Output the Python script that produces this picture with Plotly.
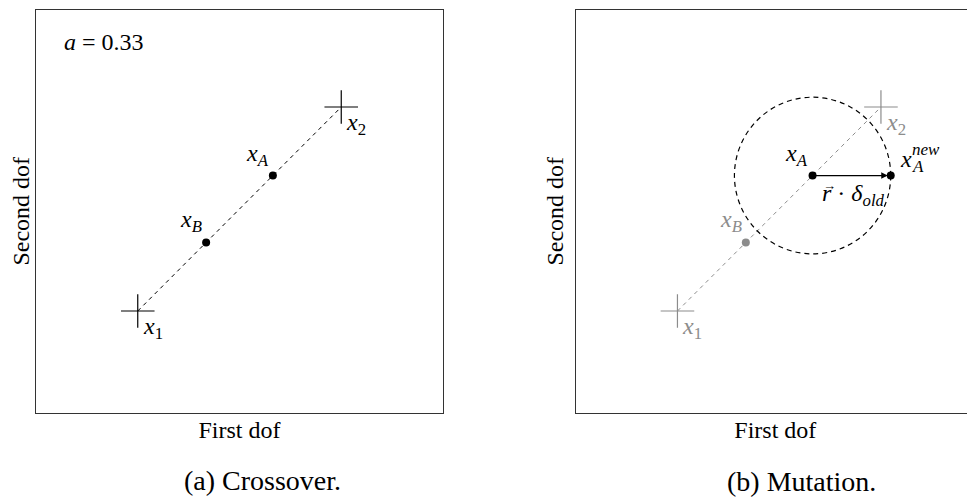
import plotly.graph_objects as go

# ---- data (unit square coordinates) ----
parents_x = [0.25, 0.75]          # x1, x2
parents_y = [0.25, 0.75]
parent_labels = ["1", "2"]
a_value = 0.33
child_names = ["A", "B"]
children_x = [0.582, 0.418]       # xA, xB
children_y = [0.582, 0.418]
new_x = [0.774]                   # xA_new
new_y = [0.582]
mut_radius = 0.192

# page body has an 8px margin -> figure is 8px smaller and everything shifted
OFF = 8
W, H = 975 - OFF, 501 - OFF
FONT = "Liberation Serif, Liberation Sans, serif"
GRAY = "#8c8c8c"
LS = 24   # label font size
TS = 24   # axis title size
CS = 28   # caption size

def px(x):
    return (x - OFF) / W

def py(y):
    return 1 - (y - OFF) / H

fig = go.Figure()

# ---------- panel (a) ----------
fig.add_trace(go.Scatter(x=parents_x, y=parents_y, mode="lines",
                         line=dict(color="black", width=1, dash="4px,4px"),
                         xaxis="x", yaxis="y", hoverinfo="skip"))
fig.add_trace(go.Scatter(x=parents_x, y=parents_y, mode="markers",
                         marker=dict(symbol="cross-thin", size=24,
                                     line=dict(color="black", width=1.2)),
                         xaxis="x", yaxis="y"))
fig.add_trace(go.Scatter(x=children_x, y=children_y, mode="markers",
                         marker=dict(symbol="circle", size=8, color="black"),
                         xaxis="x", yaxis="y"))

# ---------- panel (b) ----------
fig.add_trace(go.Scatter(x=parents_x, y=parents_y, mode="lines",
                         line=dict(color=GRAY, width=1, dash="4px,4px"),
                         xaxis="x2", yaxis="y2", hoverinfo="skip"))
fig.add_trace(go.Scatter(x=parents_x, y=parents_y, mode="markers",
                         marker=dict(symbol="cross-thin", size=24,
                                     line=dict(color=GRAY, width=1.2)),
                         xaxis="x2", yaxis="y2"))
fig.add_trace(go.Scatter(x=children_x[1:], y=children_y[1:], mode="markers",
                         marker=dict(symbol="circle", size=8, color=GRAY),
                         xaxis="x2", yaxis="y2"))
fig.add_trace(go.Scatter(x=children_x[:1] + new_x, y=children_y[:1] + new_y,
                         mode="markers",
                         marker=dict(symbol="circle", size=8, color="black"),
                         xaxis="x2", yaxis="y2"))

# dashed mutation circle
fig.add_shape(type="circle", xref="x2", yref="y2",
              x0=children_x[0] - mut_radius, x1=children_x[0] + mut_radius,
              y0=children_y[0] - mut_radius, y1=children_y[0] + mut_radius,
              line=dict(color="black", width=1.2, dash="5px,4px"))

ann = []
# arrow xA -> xA_new
ann.append(dict(xref="x2", yref="y2", axref="x2", ayref="y2",
                x=new_x[0], y=new_y[0], ax=children_x[0], ay=children_y[0],
                text="", showarrow=True, arrowhead=2, arrowsize=1,
                arrowwidth=1.3, arrowcolor="black", standoff=3))

lab_font = dict(family=FONT, size=LS, color="black")
gray_font = dict(family=FONT, size=LS, color=GRAY)

def xlab(sub):
    return "<i>x</i><sub><i>" + sub + "</i></sub>"

for xr, yr, col in (("x", "y", "black"), ("x2", "y2", GRAY)):
    f = dict(family=FONT, size=LS, color=col)
    for pxv, pyv, lab in zip(parents_x, parents_y, parent_labels):
        ann.append(dict(xref=xr, yref=yr, x=pxv, y=pyv,
                        text="<i>x</i><sub>" + lab + "</sub>",
                        showarrow=False, xanchor="left", yanchor="top",
                        xshift=3, yshift=0, font=f))

# child labels panel (a)
for cx, cy, nm in zip(children_x, children_y, child_names):
    ann.append(dict(xref="x", yref="y", x=cx, y=cy, text=xlab(nm),
                    showarrow=False, xanchor="right", yanchor="bottom",
                    xshift=-2, yshift=4, font=lab_font))
# child labels panel (b)
ann.append(dict(xref="x2", yref="y2", x=children_x[0], y=children_y[0],
                text=xlab(child_names[0]), showarrow=False,
                xanchor="right", yanchor="bottom", xshift=-3, yshift=4,
                font=lab_font))
ann.append(dict(xref="x2", yref="y2", x=children_x[1], y=children_y[1],
                text=xlab(child_names[1]), showarrow=False,
                xanchor="right", yanchor="bottom", xshift=-2, yshift=4,
                font=gray_font))
# xA^new
ann.append(dict(xref="x2", yref="y2", x=new_x[0], y=new_y[0],
                text="<i>x</i>", showarrow=False, xanchor="left",
                yanchor="bottom", xshift=7, yshift=2, font=lab_font))
ann.append(dict(xref="x2", yref="y2", x=new_x[0], y=new_y[0],
                text="<i>new</i>", showarrow=False, xanchor="left",
                yanchor="bottom", xshift=19, yshift=15,
                font=dict(family=FONT, size=17, color="black")))
ann.append(dict(xref="x2", yref="y2", x=new_x[0], y=new_y[0],
                text="<i>A</i>", showarrow=False, xanchor="left",
                yanchor="bottom", xshift=19, yshift=-2,
                font=dict(family=FONT, size=17, color="black")))
# r . delta_old  (vector arrow drawn as a small separate glyph)
ann.append(dict(xref="x2", yref="y2", x=children_x[0], y=children_y[0],
                text="<i>r</i> \u00b7 <i>\u03b4</i><sub><i>old</i></sub>",
                showarrow=False, xanchor="left", yanchor="top",
                xshift=7, yshift=-2, font=lab_font))
ann.append(dict(xref="x2", yref="y2", x=children_x[0], y=children_y[0],
                text="\u2192", showarrow=False, xanchor="left", yanchor="top",
                xshift=8, yshift=0, font=dict(family=FONT, size=13, color="black")))
# a = 0.33
ann.append(dict(xref="x", yref="y", x=0.064, y=0.909,
                text="<i>a</i> = %.2f" % a_value, showarrow=False,
                xanchor="left", yanchor="middle", font=lab_font))
# captions
ann.append(dict(xref="paper", yref="paper", x=px(262), y=py(480),
                text="(a) Crossover.", showarrow=False, xanchor="center",
                yanchor="middle", font=dict(family=FONT, size=CS, color="black")))
ann.append(dict(xref="paper", yref="paper", x=px(801), y=py(481),
                text="(b) Mutation.", showarrow=False, xanchor="center",
                yanchor="middle", font=dict(family=FONT, size=CS, color="black")))

ax_common = dict(showgrid=False, zeroline=False, showticklabels=False,
                 ticks="", showline=True, linecolor="#333333", linewidth=1)
tfont = dict(family=FONT, size=TS, color="black")

# top of the box cannot go above the body margin: keep scale, trim range
TOP = 9.5
ydom = [py(413), py(TOP)]
ytop = (413 - TOP) / 408
xr2 = (975 - 575.7) / 407

fig.update_layout(
    width=W, height=H, showlegend=False,
    plot_bgcolor="white", paper_bgcolor="white",
    margin=dict(l=0, r=0, t=0, b=0),
    xaxis=dict(domain=[px(36), px(443)], range=[0, 1], mirror=True,
               title=dict(text="First dof", font=tfont, standoff=8),
               anchor="y", **ax_common),
    yaxis=dict(domain=ydom, range=[0, ytop], mirror=True,
               title=dict(text="Second dof", font=tfont, standoff=4),
               anchor="x", **ax_common),
    xaxis2=dict(domain=[px(575.7), 1], range=[0, xr2], mirror=True,
                title=dict(text="First dof", font=tfont, standoff=8),
                anchor="y2", **ax_common),
    yaxis2=dict(domain=ydom, range=[0, ytop], mirror=False,
                title=dict(text="Second dof", font=tfont, standoff=4),
                anchor="x2", **ax_common),
    annotations=ann,
)

fig.write_html("out.html")
